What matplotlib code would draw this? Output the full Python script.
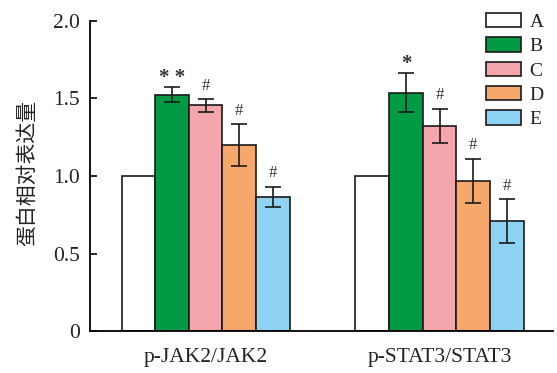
import matplotlib
matplotlib.use("Agg")
import matplotlib.pyplot as plt
import numpy as np

plt.rcParams['font.family'] = ['Liberation Serif', 'Noto Sans CJK SC']

categories = ["p-JAK2/JAK2", "p-STAT3/STAT3"]
groups = ["A", "B", "C", "D", "E"]
values = {
    "A": [1.0, 1.0],
    "B": [1.525, 1.537],
    "C": [1.456, 1.325],
    "D": [1.20, 0.968],
    "E": [0.865, 0.708],
}
errors = {
    "A": [0.0, 0.0],
    "B": [0.05, 0.125],
    "C": [0.04, 0.11],
    "D": [0.135, 0.143],
    "E": [0.065, 0.142],
}
marks = {
    "A": ["", ""],
    "B": ["* *", "*"],
    "C": ["#", "#"],
    "D": ["#", "#"],
    "E": ["#", "#"],
}
colors = {"A": "#ffffff", "B": "#009a44", "C": "#f4a6ac", "D": "#f6a76b", "E": "#8ed3f4"}

fig = plt.figure(figsize=(5.57, 3.73), dpi=100)
ax = fig.add_axes([0.1616, 0.1126, 0.8312, 0.8311])

x = np.arange(len(categories))
w = 0.1436
for i, g in enumerate(groups):
    pos = x + (i - 2) * w
    ax.bar(pos, values[g], w, color=colors[g], edgecolor='#1a1a1a', linewidth=1.2, label=g, zorder=2)
    err = np.array(errors[g])
    m = err > 0
    if m.any():
        ax.errorbar(pos[m], np.array(values[g])[m], yerr=err[m], fmt='none', ecolor='#1a1a1a',
                    elinewidth=1.2, capsize=5.5, capthick=1.2, zorder=3)
    for j in range(len(categories)):
        if marks[g][j]:
            top = values[g][j] + errors[g][j]
            if '*' in marks[g][j]:
                ax.text(pos[j], top - 0.005, marks[g][j], ha='center', va='bottom', fontsize=15,
                        color='#333333', fontweight='bold')
            else:
                ax.text(pos[j], top + 0.035, marks[g][j], ha='center', va='bottom', fontsize=12,
                        color='#333333')

ax.set_xlim(-0.4936, 1.485)
ax.set_ylim(0, 2.0)
ax.set_yticks([0, 0.5, 1.0, 1.5, 2.0])
ax.set_yticklabels(["0", "0.5", "1.0", "1.5", "2.0"])
ax.set_xticks(x)
ax.set_xticklabels(categories)
ax.tick_params(axis='x', length=0, pad=12, labelsize=15.5, labelcolor='#222222')
ax.tick_params(axis='y', direction='in', length=5, width=1.2, labelsize=15.5, pad=7,
               labelcolor='#222222')
ax.spines['top'].set_visible(False)
ax.spines['right'].set_visible(False)
ax.spines['left'].set_linewidth(1.3)
ax.spines['bottom'].set_linewidth(1.3)
ax.set_ylabel("蛋白相对表达量", fontsize=15, family=['Noto Sans CJK SC'], color='#222222')
ax.yaxis.set_label_coords(-0.112, 0.51)

leg = ax.legend(loc='upper left', bbox_to_anchor=(486 / 557, 1 - 13 / 373),
                bbox_transform=fig.transFigure, frameon=False, fontsize=14,
                handlelength=1.8, handleheight=0.75, handletextpad=0.45, labelspacing=0.33,
                borderpad=0, borderaxespad=0)
for t in leg.get_texts():
    t.set_color('#222222')

fig.savefig("out.png", dpi=100)
